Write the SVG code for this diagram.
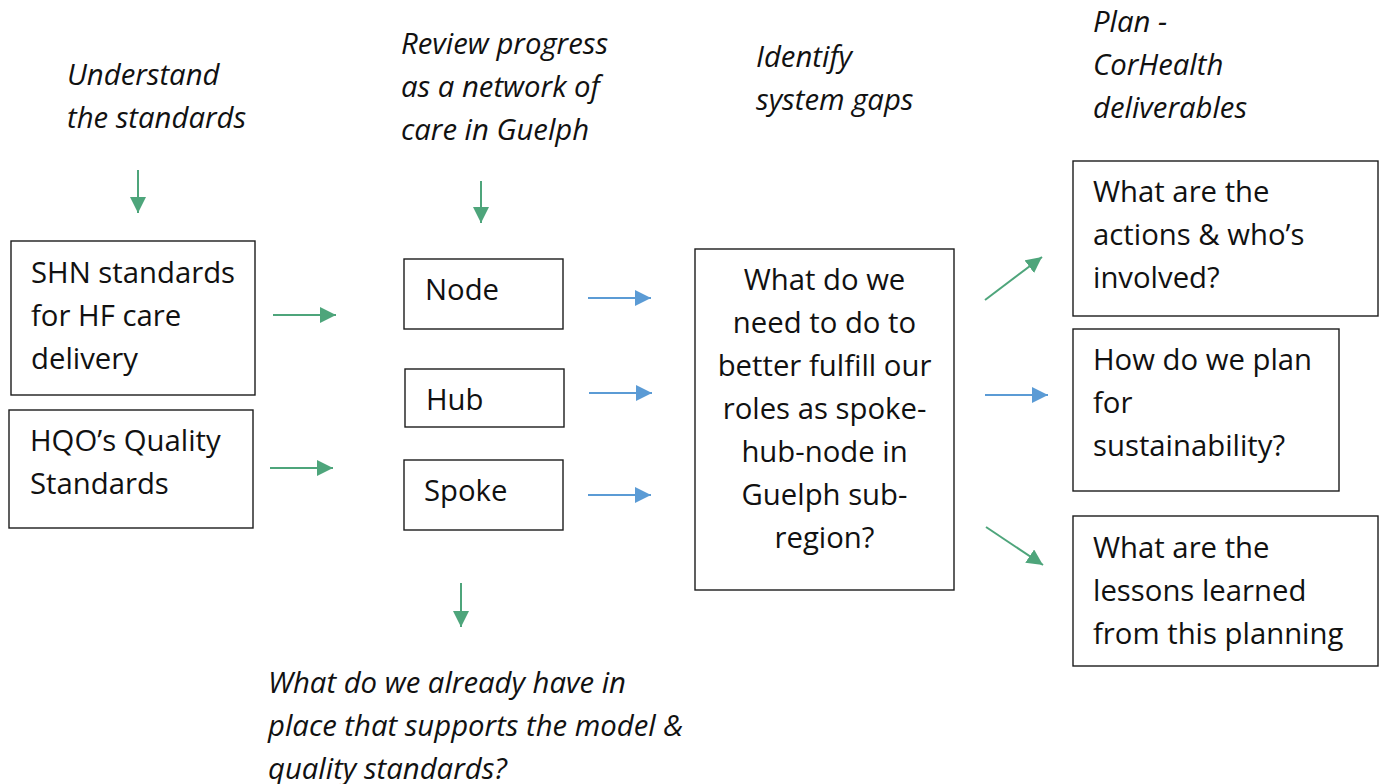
<svg xmlns="http://www.w3.org/2000/svg" width="1379" height="784" viewBox="0 0 1379 784">
  <style>
    .box { fill: #ffffff; stroke: #1c1c1c; stroke-width: 1.4; }
    .t { font-family: "Open Sans", "Noto Sans", sans-serif; font-size: 29.3px; fill: #111111; }
    .it { font-style: italic; }
    .mid { text-anchor: middle; }
    .green { stroke: #4ea57b; stroke-width: 2; fill: none; }
    .blue { stroke: #5b9bd5; stroke-width: 1.8; fill: none; }
  </style>
  <defs>
    <marker id="headGreen" markerUnits="userSpaceOnUse" markerWidth="16" markerHeight="16" viewBox="0 0 15 15" refX="15" refY="7.5" orient="auto">
      <path d="M0,0 L15,7.5 L0,15 z" fill="#4ea57b"/>
    </marker>
    <marker id="headBlue" markerUnits="userSpaceOnUse" markerWidth="16" markerHeight="16" viewBox="0 0 15 15" refX="15" refY="7.5" orient="auto">
      <path d="M0,0 L15,7.5 L0,15 z" fill="#5b9bd5"/>
    </marker>
  </defs>

  <rect width="1379" height="784" fill="#ffffff"/>

  <!-- Stage headings -->
  <g id="heading-understand">
    <text class="t it" x="67" y="85">Understand</text>
    <text class="t it" x="67" y="128">the standards</text>
  </g>
  <g id="heading-review">
    <text class="t it" x="401" y="54">Review progress</text>
    <text class="t it" x="401" y="97">as a network of</text>
    <text class="t it" x="401" y="140">care in Guelph</text>
  </g>
  <g id="heading-identify">
    <text class="t it" x="756" y="67">Identify</text>
    <text class="t it" x="756" y="110">system gaps</text>
  </g>
  <g id="heading-plan">
    <text class="t it" x="1093" y="32">Plan -</text>
    <text class="t it" x="1093" y="75">CorHealth</text>
    <text class="t it" x="1093" y="118">deliverables</text>
  </g>
  <g id="heading-existing">
    <text class="t it" x="268" y="693">What do we already have in</text>
    <text class="t it" x="268" y="736">place that supports the model &amp;</text>
    <text class="t it" x="268" y="779">quality standards?</text>
  </g>

  <!-- Standards -->
  <g id="shn-standards">
    <rect class="box" x="11" y="241" width="244" height="154"/>
    <text class="t" x="31" y="283">SHN standards</text>
    <text class="t" x="31" y="326">for HF care</text>
    <text class="t" x="31" y="369">delivery</text>
  </g>
  <g id="hqo-standards">
    <rect class="box" x="9" y="410" width="244" height="118"/>
    <text class="t" x="30" y="451">HQO’s Quality</text>
    <text class="t" x="30" y="494">Standards</text>
  </g>

  <!-- Network roles -->
  <g id="node">
    <rect class="box" x="404" y="259" width="159" height="70"/>
    <text class="t" x="425" y="300">Node</text>
  </g>
  <g id="hub">
    <rect class="box" x="405" y="369" width="159" height="58"/>
    <text class="t" x="426" y="410">Hub</text>
  </g>
  <g id="spoke">
    <rect class="box" x="404" y="460" width="159" height="70"/>
    <text class="t" x="424" y="501">Spoke</text>
  </g>

  <!-- Gap question -->
  <g id="gap-question">
    <rect class="box" x="695" y="249" width="259" height="341"/>
    <text class="t mid" x="824.5" y="290">What do we</text>
    <text class="t mid" x="824.5" y="333">need to do to</text>
    <text class="t mid" x="824.5" y="376">better fulfill our</text>
    <text class="t mid" x="824.5" y="419">roles as spoke-</text>
    <text class="t mid" x="824.5" y="462">hub-node in</text>
    <text class="t mid" x="824.5" y="505">Guelph sub-</text>
    <text class="t mid" x="824.5" y="548">region?</text>
  </g>

  <!-- Deliverables -->
  <g id="actions">
    <rect class="box" x="1073" y="161" width="305" height="155"/>
    <text class="t" x="1093" y="202">What are the</text>
    <text class="t" x="1093" y="245">actions &amp; who’s</text>
    <text class="t" x="1093" y="288">involved?</text>
  </g>
  <g id="sustainability">
    <rect class="box" x="1073" y="329" width="266" height="162"/>
    <text class="t" x="1093" y="370">How do we plan</text>
    <text class="t" x="1093" y="413">for</text>
    <text class="t" x="1093" y="456">sustainability?</text>
  </g>
  <g id="lessons">
    <rect class="box" x="1073" y="516" width="305" height="150"/>
    <text class="t" x="1093" y="558">What are the</text>
    <text class="t" x="1093" y="601">lessons learned</text>
    <text class="t" x="1093" y="644">from this planning</text>
  </g>

  <!-- Connectors -->
  <g id="connectors">
    <line class="green" x1="138" y1="170" x2="138" y2="213" marker-end="url(#headGreen)"/>
    <line class="green" x1="481" y1="181" x2="481" y2="223" marker-end="url(#headGreen)"/>
    <line class="green" x1="461" y1="583" x2="461" y2="627" marker-end="url(#headGreen)"/>
    <line class="green" x1="273" y1="315" x2="336" y2="315" marker-end="url(#headGreen)"/>
    <line class="green" x1="270" y1="468" x2="333" y2="468" marker-end="url(#headGreen)"/>
    <line class="blue" x1="588" y1="298" x2="651" y2="298" marker-end="url(#headBlue)"/>
    <line class="blue" x1="589" y1="393" x2="652" y2="393" marker-end="url(#headBlue)"/>
    <line class="blue" x1="588" y1="495" x2="651" y2="495" marker-end="url(#headBlue)"/>
    <line class="green" x1="985" y1="300" x2="1042" y2="257" marker-end="url(#headGreen)"/>
    <line class="blue" x1="985" y1="395" x2="1048" y2="395" marker-end="url(#headBlue)"/>
    <line class="green" x1="986" y1="527" x2="1043" y2="565" marker-end="url(#headGreen)"/>
  </g>
</svg>
